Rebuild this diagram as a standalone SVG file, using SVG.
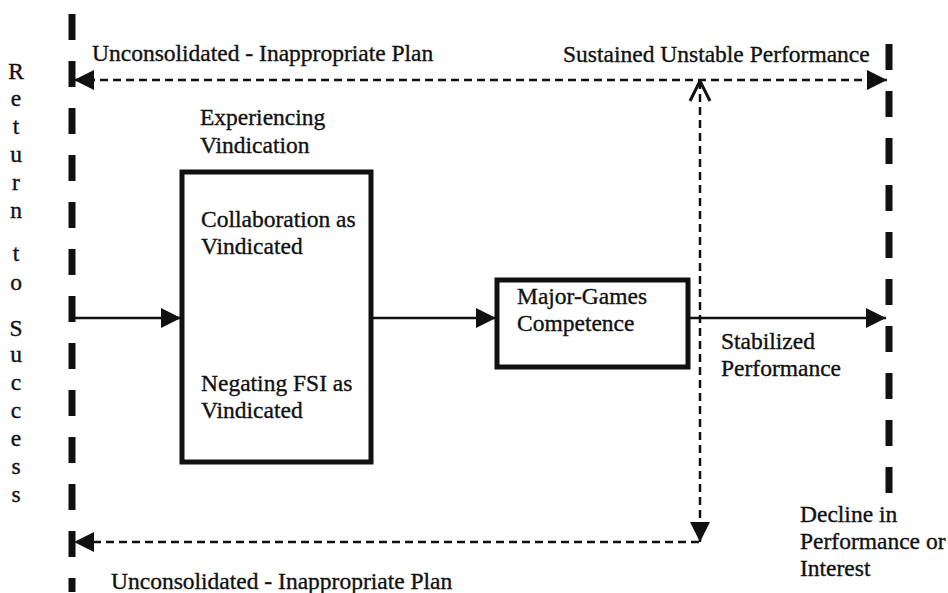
<svg xmlns="http://www.w3.org/2000/svg" width="948" height="593" viewBox="0 0 948 593">
  <style>
    text { font-family: "Liberation Serif", "Times New Roman", serif; font-size: 23.5px; fill: #111; stroke: #111; stroke-width: 0.35; }
    .boundary { fill: none; stroke: #111; stroke-width: 7; stroke-dasharray: 26 21; }
    .box { fill: #fff; stroke: #111; stroke-width: 5; }
    .flow { fill: none; stroke: #111; stroke-width: 2.5; }
    .loop { fill: none; stroke: #111; stroke-width: 2.5; stroke-dasharray: 8 5; }
  </style>
  <defs>
    <marker id="head" viewBox="0 0 20 20" refX="20" refY="10" markerWidth="20" markerHeight="20" markerUnits="userSpaceOnUse" orient="auto-start-reverse">
      <path d="M0,0 L20,10 L0,20 Z" fill="#111"/>
    </marker>
    <marker id="open" viewBox="0 0 24 24" refX="22" refY="12" markerWidth="24" markerHeight="24" markerUnits="userSpaceOnUse" orient="auto-start-reverse">
      <path d="M2,2 L22,12 L2,22" fill="none" stroke="#111" stroke-width="3"/>
    </marker>
  </defs>

  <!-- side label, one letter per line -->
  <g id="return-label" text-anchor="middle">
    <text x="16" y="79">R</text>
    <text x="16" y="106">e</text>
    <text x="16" y="134">t</text>
    <text x="16" y="162">u</text>
    <text x="16" y="190">r</text>
    <text x="16" y="218">n</text>
    <text x="16" y="261">t</text>
    <text x="16" y="290">o</text>
    <text x="16" y="336">S</text>
    <text x="16" y="362">u</text>
    <text x="16" y="390">c</text>
    <text x="16" y="418">c</text>
    <text x="16" y="446">e</text>
    <text x="16" y="474">s</text>
    <text x="16" y="502">s</text>
  </g>

  <!-- boundaries -->
  <g id="left-boundary">
    <line class="boundary" x1="72" y1="14" x2="72" y2="592"/>
  </g>
  <g id="right-boundary">
    <line class="boundary" x1="889" y1="44" x2="889" y2="496"/>
  </g>

  <!-- nodes -->
  <g id="experiencing-vindication">
    <text x="200" y="125">Experiencing</text>
    <text x="200" y="153">Vindication</text>
    <rect class="box" x="182" y="172" width="189" height="290"/>
    <text x="201" y="227">Collaboration as</text>
    <text x="201" y="254">Vindicated</text>
    <text x="201" y="391">Negating FSI as</text>
    <text x="201" y="418">Vindicated</text>
  </g>
  <g id="major-games">
    <rect class="box" x="497" y="280" width="191" height="87"/>
    <text x="517" y="304">Major-Games</text>
    <text x="517" y="331">Competence</text>
  </g>

  <!-- connectors -->
  <g id="connectors">
    <line class="flow" x1="75" y1="318" x2="181" y2="318" marker-end="url(#head)"/>
    <line class="flow" x1="373" y1="318" x2="496" y2="318" marker-end="url(#head)"/>
    <line class="flow" x1="690" y1="318" x2="886" y2="318" marker-end="url(#head)"/>
    <line class="loop" x1="74" y1="80" x2="887" y2="80" marker-start="url(#head)" marker-end="url(#head)"/>
    <line class="loop" x1="700" y1="81" x2="700" y2="542" marker-start="url(#open)" marker-end="url(#head)"/>
    <line class="loop" x1="699" y1="542" x2="74" y2="542" marker-end="url(#head)"/>
  </g>

  <!-- edge labels -->
  <g id="labels">
    <text x="92" y="61">Unconsolidated - Inappropriate Plan</text>
    <text x="563" y="62">Sustained Unstable Performance</text>
    <text x="721" y="349">Stabilized</text>
    <text x="721" y="376">Performance</text>
    <text x="800" y="522">Decline in</text>
    <text x="800" y="549">Performance or</text>
    <text x="800" y="576">Interest</text>
    <text x="111" y="589">Unconsolidated - Inappropriate Plan</text>
  </g>
</svg>
